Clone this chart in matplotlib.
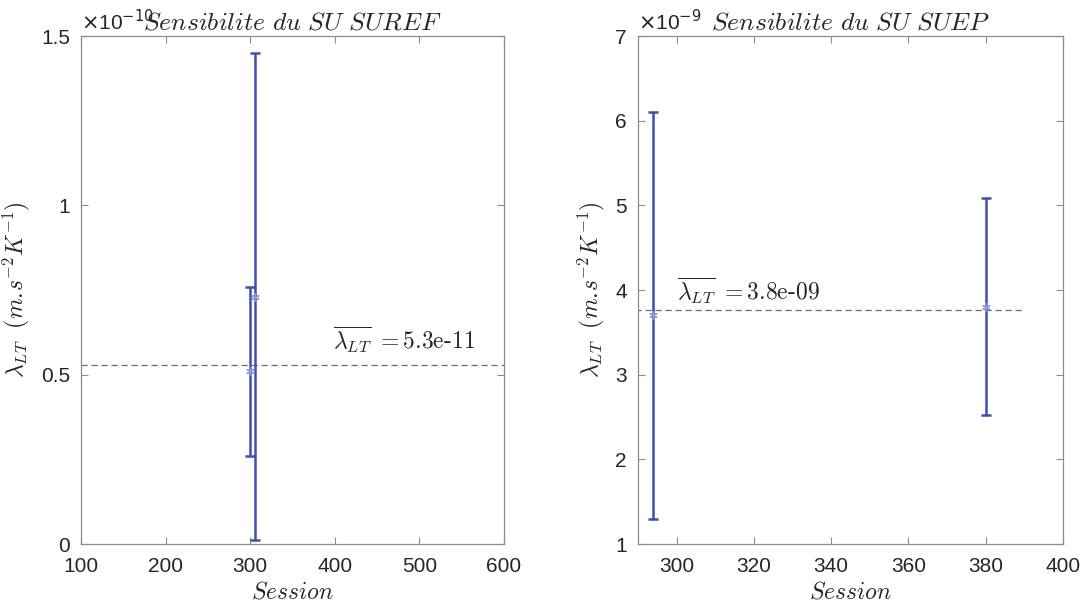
import matplotlib
matplotlib.use("Agg")
import matplotlib.pyplot as plt
import numpy as np

plt.rcParams['font.family'] = ['Liberation Sans', 'DejaVu Sans']
plt.rcParams['mathtext.fontset'] = 'cm'

# Left panel: SUREF
sessions_ref = [300, 306]
lam_ref = [0.51e-10, 0.73e-10]
low_ref = [0.26e-10, 0.012e-10]
high_ref = [0.76e-10, 1.45e-10]
mean_ref = 5.28e-11
mean_ref_x = [100, 600]

# Right panel: SUEP
sessions_ep = [294, 380]
lam_ep = [3.70e-9, 3.80e-9]
low_ep = [1.30e-9, 2.52e-9]
high_ep = [6.10e-9, 5.09e-9]
mean_ep = 3.76e-9
mean_ep_x = [284, 390]

titles = [r'$Sensibilite\ du\ SU\ SUREF$', r'$Sensibilite\ du\ SU\ SUEP$']
ylabel = r'$\lambda_{LT}\ \ (m.\!s^{-2}K^{-1})$'
xlabel = r'$Session$'

fig = plt.figure(figsize=(10.85, 6.09), dpi=100)
ax1 = fig.add_axes([81/1085, 1-544/609, 423/1085, 508/609])
ax2 = fig.add_axes([638/1085, 1-544/609, 425/1085, 508/609])

blue = '#3F4FB0'
axc = '#8C8C8C'
txtc = '#262626'

def draw(ax, xs, ys, lo, hi, mean, mx, scale, exp, xlim, ylim, xticks, yticks, ytl, title, ann_xy, ann_val):
    xs = np.array(xs); ys = np.array(ys) / scale
    lo = np.array(lo) / scale; hi = np.array(hi) / scale
    ax.errorbar(xs, ys, yerr=[ys - lo, hi - ys], fmt='none', ecolor=blue, elinewidth=1.8, capsize=3.5, capthick=1.8, zorder=3)
    ax.plot(xs, ys, linestyle='none', marker=(6, 2, 0), color='#8A96D8', markersize=6, markeredgewidth=0.9, zorder=4)
    ax.plot(mx, [mean/scale]*2, linestyle=(0, (5, 3)), color='#6E6E6E', linewidth=0.9, zorder=2)
    ax.set_xlim(*xlim); ax.set_ylim(*ylim)
    ax.set_xticks(xticks); ax.set_yticks(yticks)
    ax.set_yticklabels(ytl)
    ax.tick_params(direction='in', top=True, right=True, length=5, width=0.8, color=axc, labelcolor=txtc, labelsize=15)
    ax.tick_params(axis='x', pad=9)
    ax.tick_params(axis='y', pad=8)
    for s in ax.spines.values():
        s.set_color(axc); s.set_linewidth(0.9)
    ax.set_xlabel(xlabel, fontsize=17, color=txtc, labelpad=4)
    ax.set_ylabel(ylabel, fontsize=17, color=txtc, labelpad=6)
    ax.text(0.0, 1.004, r'$\times$10$^{%d}$' % exp, transform=ax.transAxes, fontsize=15, color=txtc,
            ha='left', va='bottom', family=['Liberation Sans', 'DejaVu Sans'],
            math_fontfamily='dejavusans')
    ax.set_title(title, fontsize=18.5, color=txtc, pad=5)
    ax.text(ann_xy[0], ann_xy[1]/scale, r'$\overline{\lambda_{LT}}\ =$' + ann_val, fontsize=17, color=txtc,
            ha='left', va='baseline', family='cmr10')

draw(ax1, sessions_ref, lam_ref, low_ref, high_ref, mean_ref, mean_ref_x, 1e-10, -10,
     (100, 600), (0, 1.5), [100, 200, 300, 400, 500, 600], [0, 0.5, 1, 1.5], ['0', '0.5', '1', '1.5'],
     titles[0], (398, 0.575e-10), '5.3e-11')
draw(ax2, sessions_ep, lam_ep, low_ep, high_ep, mean_ep, mean_ep_x, 1e-9, -9,
     (290, 400), (1, 7), [300, 320, 340, 360, 380, 400], [1, 2, 3, 4, 5, 6, 7], ['1', '2', '3', '4', '5', '6', '7'],
     titles[1], (300, 3.88e-9), '3.8e-09')

fig.savefig('out.png', dpi=100)
